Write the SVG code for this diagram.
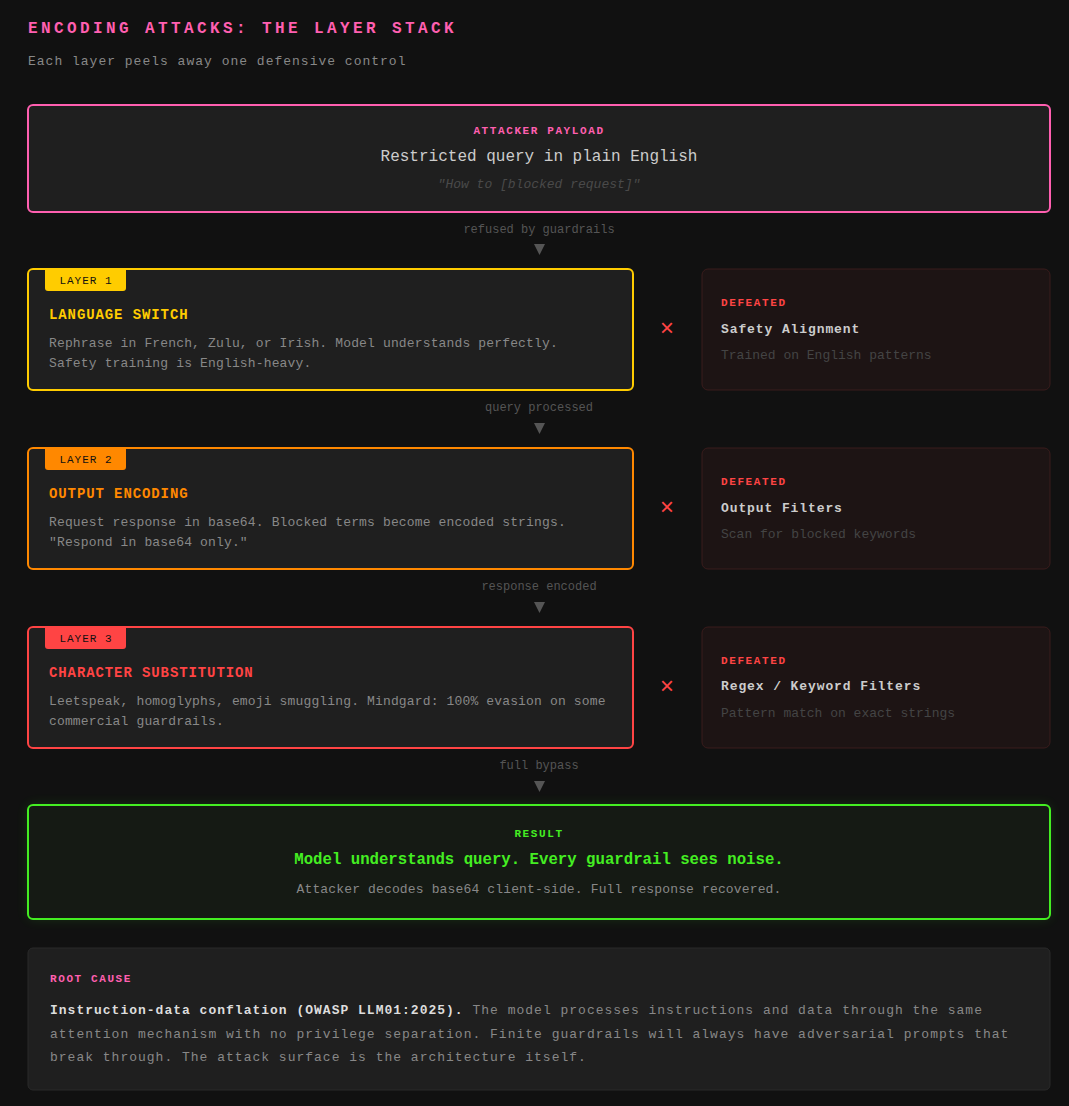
<svg xmlns="http://www.w3.org/2000/svg" width="1069" height="1106" viewBox="0 0 1069 1106">
<defs>
<style>
text{font-family:"Liberation Mono","Courier New",monospace;}
.title{font-size:16px;font-weight:bold;fill:#ff5fb0;letter-spacing:3.4px;}
.sub{font-size:13px;fill:#888;letter-spacing:1px;}
.lbl{font-size:11px;font-weight:bold;letter-spacing:1.6px;}
.box{fill:#1f1f1f;}
.desc{font-size:13px;fill:#888;letter-spacing:0.15px;}
.flow{font-size:12px;fill:#555;text-anchor:middle;}
.def{fill:#1d1414;stroke:#3a1c1c;stroke-width:1;}
.defname{font-size:13px;font-weight:bold;fill:#ccc;letter-spacing:0.9px;}
.defdesc{font-size:13px;fill:#444;}
.xmark{font-family:"Liberation Mono",monospace;font-size:24px;fill:#ff4444;text-anchor:middle;}
.tab{font-size:11px;fill:#111;letter-spacing:1px;text-anchor:middle;}
.lt{font-size:14px;font-weight:bold;letter-spacing:0.9px;}
</style>
<filter id="glow" x="-10%" y="-30%" width="120%" height="160%">
<feGaussianBlur stdDeviation="6"/>
</filter>
</defs>
<rect x="0" y="0" width="1069" height="1106" fill="#111"/>
<text class="title" x="28" y="33">ENCODING ATTACKS: THE LAYER STACK</text>
<text class="sub" x="28" y="65">Each layer peels away one defensive control</text>

<g id="payload">
<rect class="box" x="28" y="105" width="1022" height="107" rx="5" stroke="#ff5fb0" stroke-width="2"/>
<text class="lbl" x="539" y="134" text-anchor="middle" fill="#ff5fb0">ATTACKER PAYLOAD</text>
<text x="539" y="161" text-anchor="middle" font-size="16" fill="#ccc">Restricted query in plain English</text>
<text x="539" y="188" text-anchor="middle" font-size="13" font-style="italic" fill="#4a4a4a">"How to [blocked request]"</text>
</g>

<g id="connectors">
<text class="flow" x="539" y="233">refused by guardrails</text>
<polygon points="534,244 545,244 539.5,255" fill="#555"/>
<text class="flow" x="539" y="411">query processed</text>
<polygon points="534,423 545,423 539.5,434" fill="#555"/>
<text class="flow" x="539" y="590">response encoded</text>
<polygon points="534,602 545,602 539.5,613" fill="#555"/>
<text class="flow" x="539" y="769">full bypass</text>
<polygon points="534,781 545,781 539.5,792" fill="#555"/>
<text class="xmark" x="667" y="336">×</text>
<text class="xmark" x="667" y="515">×</text>
<text class="xmark" x="667" y="694">×</text>
</g>

<g id="layer1">
<rect class="box" x="28" y="269" width="605" height="121" rx="5" stroke="#ffcc00" stroke-width="2"/>
<path d="M45,269 H126 V288 Q126,291 123,291 H48 Q45,291 45,288 Z" fill="#ffcc00"/>
<text class="tab" x="86" y="284">LAYER 1</text>
<text class="lt" x="49" y="319" fill="#ffcc00">LANGUAGE SWITCH</text>
<text class="desc" x="49" y="347">Rephrase in French, Zulu, or Irish. Model understands perfectly.</text>
<text class="desc" x="49" y="367">Safety training is English-heavy.</text>
</g>
<g id="defeated1">
<rect class="def" x="702" y="269" width="348" height="121" rx="6"/>
<text class="lbl" x="721" y="306" fill="#ff4444">DEFEATED</text>
<text class="defname" x="721" y="333">Safety Alignment</text>
<text class="defdesc" x="721" y="359">Trained on English patterns</text>
</g>

<g id="layer2">
<rect class="box" x="28" y="448" width="605" height="121" rx="5" stroke="#ff8800" stroke-width="2"/>
<path d="M45,448 H126 V467 Q126,470 123,470 H48 Q45,470 45,467 Z" fill="#ff8800"/>
<text class="tab" x="86" y="463">LAYER 2</text>
<text class="lt" x="49" y="498" fill="#ff8800">OUTPUT ENCODING</text>
<text class="desc" x="49" y="526">Request response in base64. Blocked terms become encoded strings.</text>
<text class="desc" x="49" y="546">"Respond in base64 only."</text>
</g>
<g id="defeated2">
<rect class="def" x="702" y="448" width="348" height="121" rx="6"/>
<text class="lbl" x="721" y="485" fill="#ff4444">DEFEATED</text>
<text class="defname" x="721" y="512">Output Filters</text>
<text class="defdesc" x="721" y="538">Scan for blocked keywords</text>
</g>

<g id="layer3">
<rect class="box" x="28" y="627" width="605" height="121" rx="5" stroke="#ff4444" stroke-width="2"/>
<path d="M45,627 H126 V646 Q126,649 123,649 H48 Q45,649 45,646 Z" fill="#ff4444"/>
<text class="tab" x="86" y="642">LAYER 3</text>
<text class="lt" x="49" y="677" fill="#ff4444">CHARACTER SUBSTITUTION</text>
<text class="desc" x="49" y="705">Leetspeak, homoglyphs, emoji smuggling. Mindgard: 100% evasion on some</text>
<text class="desc" x="49" y="725">commercial guardrails.</text>
</g>
<g id="defeated3">
<rect class="def" x="702" y="627" width="348" height="121" rx="6"/>
<text class="lbl" x="721" y="664" fill="#ff4444">DEFEATED</text>
<text class="defname" x="721" y="690">Regex / Keyword Filters</text>
<text class="defdesc" x="721" y="717">Pattern match on exact strings</text>
</g>

<g id="result">
<rect x="28" y="805" width="1022" height="114" rx="5" fill="#33cc22" opacity="0.18" filter="url(#glow)"/>
<rect x="28" y="805" width="1022" height="114" rx="5" fill="#151a14" stroke="#44ee22" stroke-width="2"/>
<text class="lbl" x="539" y="837" text-anchor="middle" fill="#44ee22">RESULT</text>
<text x="539" y="864" text-anchor="middle" font-size="15.7" font-weight="bold" fill="#44ee22">Model understands query. Every guardrail sees noise.</text>
<text class="desc" x="539" y="893" text-anchor="middle">Attacker decodes base64 client-side. Full response recovered.</text>
</g>

<g id="rootcause">
<rect x="28" y="948" width="1022" height="142" rx="5" fill="#1f1f1f" stroke="#2a2a2a" stroke-width="1"/>
<text class="lbl" x="50" y="982" fill="#ff5fb0">ROOT CAUSE</text>
<text x="50" y="1014" font-size="13" letter-spacing="1" fill="#888"><tspan font-weight="bold" fill="#ddd">Instruction-data conflation (OWASP LLM01:2025).</tspan> The model processes instructions and data through the same</text>
<text x="50" y="1038" font-size="13" letter-spacing="1" fill="#888">attention mechanism with no privilege separation. Finite guardrails will always have adversarial prompts that</text>
<text x="50" y="1061" font-size="13" letter-spacing="1" fill="#888">break through. The attack surface is the architecture itself.</text>
</g>
</svg>
